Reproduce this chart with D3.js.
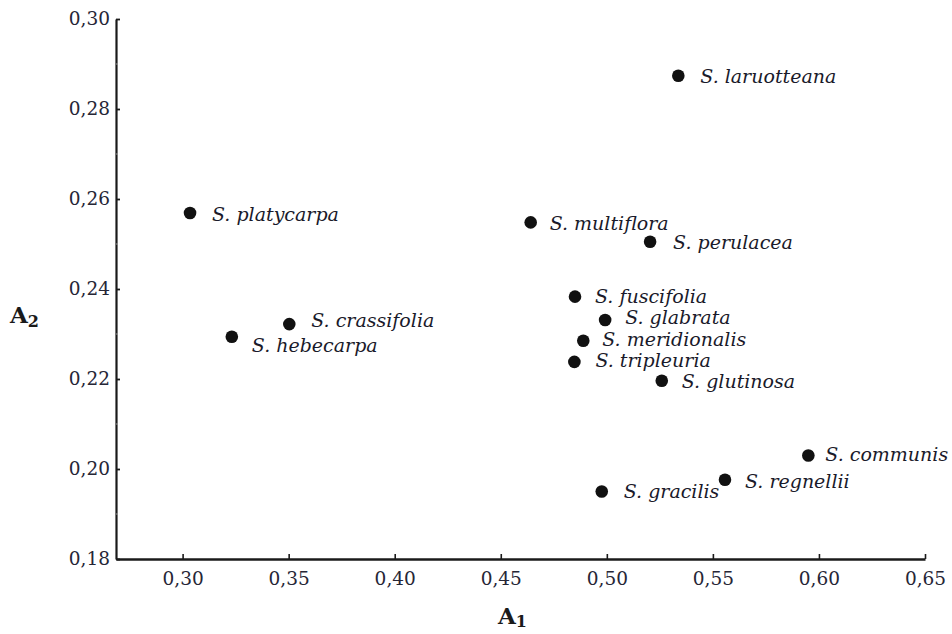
<!DOCTYPE html>
<html><head><meta charset="utf-8">
<script src="https://cdn.jsdelivr.net/npm/d3@7"></script>
<style>
html,body{margin:0;padding:0;background:#fff;}
svg{display:block;}
</style></head>
<body>
<script>
const species = ["S. laruotteana","S. platycarpa","S. multiflora","S. perulacea","S. fuscifolia","S. glabrata","S. crassifolia","S. hebecarpa","S. meridionalis","S. tripleuria","S. glutinosa","S. communis","S. regnellii","S. gracilis"];
const a1Values = [0.5337,0.3035,0.4641,0.5204,0.4850,0.4992,0.3503,0.3232,0.4889,0.4847,0.5259,0.5950,0.5557,0.4976];
const a2Values = [0.2874,0.2569,0.2548,0.2505,0.2383,0.2331,0.2322,0.2294,0.2285,0.2238,0.2196,0.2030,0.1976,0.1950];
const xTicks = [0.30,0.35,0.40,0.45,0.50,0.55,0.60,0.65];
const yTicks = [0.18,0.20,0.22,0.24,0.26,0.28,0.30];
const yMinorTicks = [0.19,0.21,0.23,0.25,0.27,0.29];
// label offsets (layout only)
const labelDx = [22,22,19,23,20,20,22,20,19,21,20,17,20,22];
const labelDy = [7,8,8,7,6,4,3,15,5,5,7,5,8,6];

const W = 952, H = 634;
const svg = d3.select("body").append("svg").attr("width",W).attr("height",H);

const x = d3.scaleLinear().domain([0.2686,0.65]).range([116,925]);
const y = d3.scaleLinear().domain([0.18,0.30]).range([559,19]);
const fmt = v => d3.format(".2f")(v).replace(".",",");

const tickFont = "DejaVu Serif";
// x axis
const gx = svg.append("g").attr("transform","translate(0,559)")
  .call(d3.axisBottom(x).tickValues(xTicks).tickFormat(fmt).tickSizeInner(-5).tickSizeOuter(0).tickPadding(13));
gx.select(".domain").attr("stroke","#1a1a1a").attr("stroke-width",2.4);
gx.selectAll(".tick line").attr("stroke","#1a1a1a").attr("stroke-width",1.6);
gx.selectAll(".tick text").attr("font-family",tickFont).attr("font-size",18.5).attr("fill","#262636");

// y axis
const gy = svg.append("g").attr("transform","translate(116,0)")
  .call(d3.axisLeft(y).tickValues(yTicks).tickFormat(fmt).tickSizeInner(-4).tickSizeOuter(0).tickPadding(6));
gy.select(".domain").attr("stroke","#1a1a1a").attr("stroke-width",2.2);
gy.selectAll(".tick line").attr("stroke","#1a1a1a").attr("stroke-width",1.8);
gy.selectAll(".tick text").attr("font-family",tickFont).attr("font-size",18.5).attr("fill","#262636");
// minor ticks
svg.append("g").selectAll("line").data(yMinorTicks).join("line")
  .attr("x1",116).attr("x2",118).attr("y1",d=>y(d)).attr("y2",d=>y(d))
  .attr("stroke","#999").attr("stroke-width",1);

// axis titles
const t1 = svg.append("text").attr("x",498).attr("y",624)
  .attr("font-family","DejaVu Serif").attr("font-weight","bold").attr("font-size",23).attr("fill","#1a1a1a");
t1.append("tspan").text("A");
t1.append("tspan").attr("font-size",16).attr("dy",3).text("1");
const t2 = svg.append("text").attr("x",10).attr("y",323)
  .attr("font-family","DejaVu Serif").attr("font-weight","bold").attr("font-size",23).attr("fill","#1a1a1a");
t2.append("tspan").text("A");
t2.append("tspan").attr("font-size",16).attr("dy",4).text("2");

// points
const pts = species.map((s,i)=>({name:s,a1:a1Values[i],a2:a2Values[i],dx:labelDx[i],dy:labelDy[i]}));
svg.append("g").selectAll("circle").data(pts).join("circle")
  .attr("cx",d=>x(d.a1)).attr("cy",d=>y(d.a2)).attr("r",6.3).attr("fill","#111");
svg.append("g").selectAll("text").data(pts).join("text")
  .attr("x",d=>x(d.a1)+d.dx).attr("y",d=>y(d.a2)+d.dy)
  .attr("font-family","DejaVu Serif").attr("font-style","italic").attr("font-size",19)
  .attr("fill","#1a1a2a").text(d=>d.name);
</script>
</body></html>
